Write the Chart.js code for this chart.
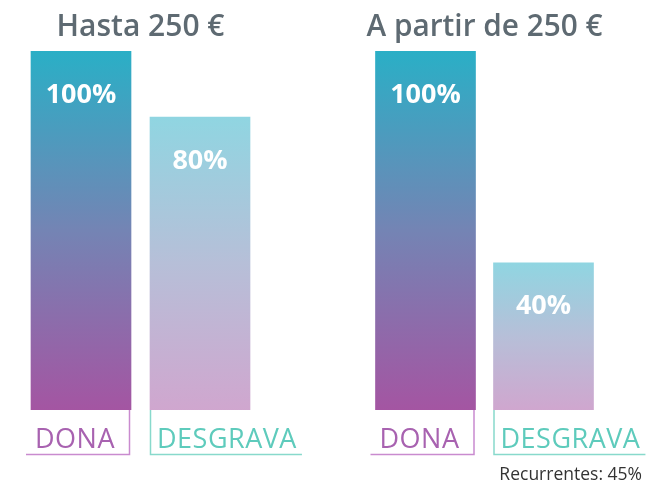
<!DOCTYPE html>
<html lang="es">
<head>
    <meta charset="UTF-8">
    <title>Dona y desgrava</title>
    <script src="https://cdn.jsdelivr.net/npm/chart.js"></script>
    <style>
        body { margin: 0; background: #ffffff; }
        .grafico { position: absolute; top: 0; }
    </style>
</head>
<body>
    <canvas id="graficoHasta" class="grafico" style="left: 0px" width="324" height="483"></canvas>
    <canvas id="graficoAPartir" class="grafico" style="left: 324px" width="324" height="483"></canvas>
</body>
</html>
<script>
    // datos
    const categorias = ['DONA', 'DESGRAVA'];
    const titulos = ['Hasta 250 €', 'A partir de 250 €'];
    const valoresHasta = [100, 81.6];
    const valoresAPartir = [100, 41];
    const etiquetasHasta = ['100%', '80%'];
    const etiquetasAPartir = ['100%', '40%'];
    const nota = 'Recurrentes: 45%';

    const coloresTexto = ['#a862b0', '#5ecbbc'];
    const coloresLinea = ['#c98bcf', '#88d9cc'];

    // degradado de cada barra, de su borde superior a la base
    function degradado(context) {
        const chart = context.chart;
        if (!chart.chartArea) return null;
        const escala = chart.scales.y;
        const arriba = escala.getPixelForValue(context.raw);
        const abajo = escala.getPixelForValue(0);
        const g = chart.ctx.createLinearGradient(0, arriba, 0, abajo);
        const alfa = context.dataIndex === 0 ? 1 : 0.52;
        g.addColorStop(0, `rgba(42, 175, 198, ${alfa})`);
        g.addColorStop(0.5, `rgba(116, 132, 180, ${alfa})`);
        g.addColorStop(1, `rgba(164, 85, 162, ${alfa})`);
        return g;
    }

    const pluginEtiquetas = {
        id: 'etiquetas',
        afterDatasetsDraw(chart, args, opciones) {
            const ctx = chart.ctx;
            const meta = chart.getDatasetMeta(0);
            const base = chart.scales.y.getPixelForValue(0);
            const lineaY = base + 44.5;

            meta.data.forEach(function (barra, i) {
                const izq = barra.x - barra.width / 2;
                const der = barra.x + barra.width / 2;

                // valor en blanco dentro de la barra
                ctx.save();
                ctx.fillStyle = '#ffffff';
                ctx.font = '700 27px "Open Sans"';
                ctx.textAlign = 'center';
                ctx.textBaseline = 'middle';
                ctx.fillText(opciones.textos[i], barra.x, barra.y + 44);
                ctx.restore();

                // nombre de la categoria con su corchete
                ctx.save();
                ctx.font = '400 27px "Open Sans"';
                ctx.letterSpacing = '0.5px';
                ctx.textBaseline = 'alphabetic';
                ctx.textAlign = 'left';
                ctx.fillStyle = coloresTexto[i];
                const texto = categorias[i];
                const ancho = ctx.measureText(texto).width;
                ctx.strokeStyle = coloresLinea[i];
                ctx.lineWidth = 1.5;
                ctx.beginPath();
                if (i === 0) {
                    const x0 = izq + 4;
                    ctx.fillText(texto, x0, base + 38);
                    ctx.moveTo(der - 1.5, base);
                    ctx.lineTo(der - 1.5, lineaY);
                    ctx.lineTo(x0 - 9, lineaY);
                } else {
                    const x0 = izq + 7;
                    ctx.fillText(texto, x0, base + 38);
                    ctx.moveTo(izq + 0.5, base);
                    ctx.lineTo(izq + 0.5, lineaY);
                    ctx.lineTo(x0 + ancho + 5, lineaY);
                }
                ctx.stroke();
                ctx.restore();
            });

            if (opciones.nota) {
                ctx.save();
                ctx.font = '400 17.5px "Open Sans"';
                ctx.fillStyle = '#333333';
                ctx.textAlign = 'right';
                ctx.textBaseline = 'alphabetic';
                ctx.fillText(opciones.nota, chart.width - 6, 480);
                ctx.restore();
            }
        }
    };

    function crearGrafico(id, titulo, valores, textos, relleno, conNota) {
        const config = {
            type: 'bar',
            data: {
                labels: categorias,
                datasets: [{
                    data: valores,
                    backgroundColor: degradado,
                    borderWidth: 0,
                    barThickness: 100
                }]
            },
            options: {
                responsive: false,
                animation: false,
                layout: { padding: relleno },
                scales: {
                    x: { display: false },
                    y: { display: false, min: 0, max: 100 }
                },
                plugins: {
                    legend: { display: false },
                    tooltip: { enabled: false },
                    title: {
                        display: true,
                        text: titulo,
                        color: '#5e6a72',
                        font: { family: 'Open Sans', size: 30, weight: '600', lineHeight: 1.2 },
                        padding: { top: 9, bottom: 6 }
                    },
                    etiquetas: { textos: textos, nota: conNota ? nota : null }
                }
            },
            plugins: [pluginEtiquetas]
        };
        return new Chart(document.getElementById(id), config);
    }

    crearGrafico('graficoHasta', titulos[0], valoresHasta, etiquetasHasta,
        { left: 21.5, right: 64.5, top: 0, bottom: 73 }, false);
    crearGrafico('graficoAPartir', titulos[1], valoresAPartir, etiquetasAPartir,
        { left: 42.5, right: 45.5, top: 0, bottom: 73 }, true);
</script>
